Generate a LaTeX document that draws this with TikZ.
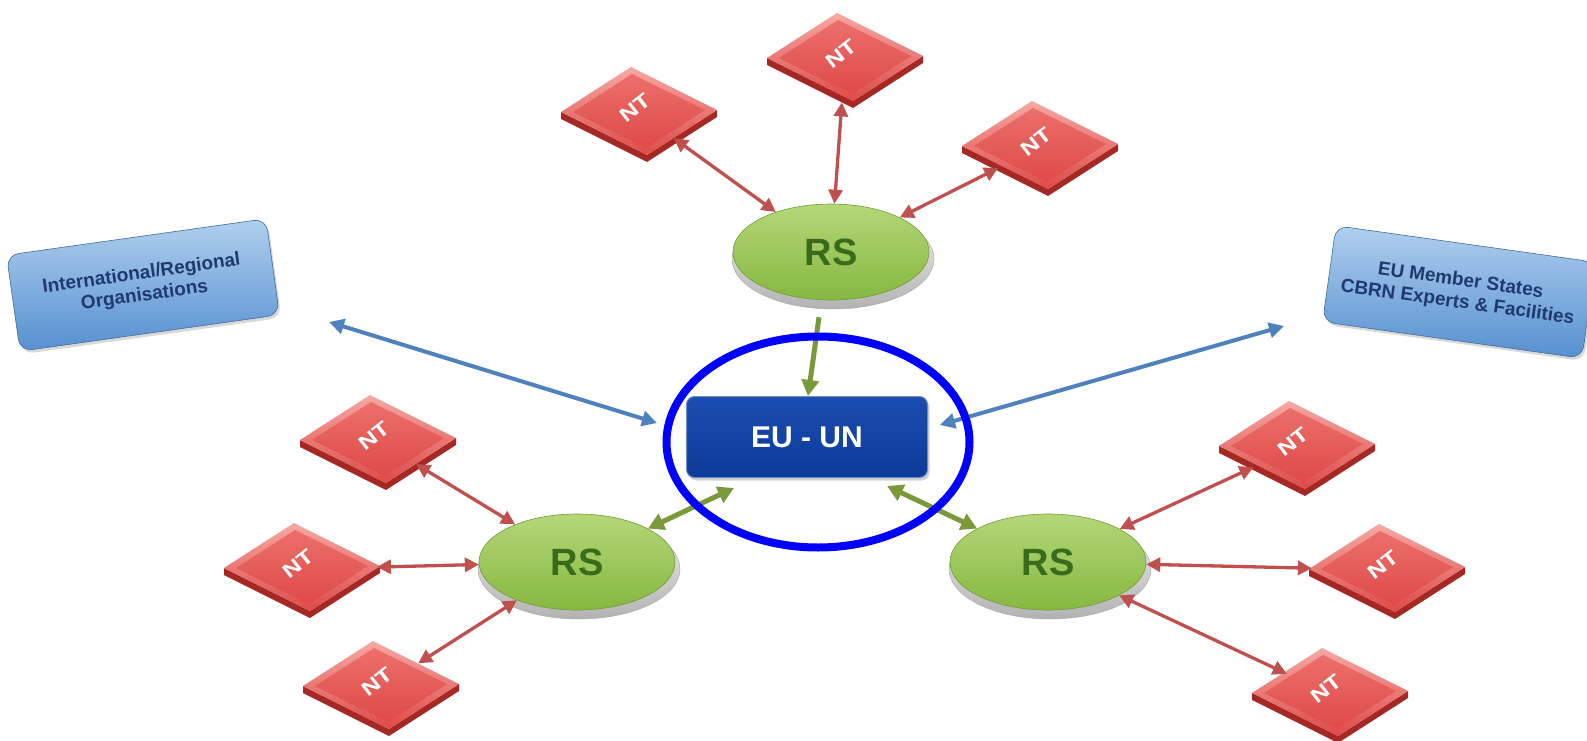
\documentclass[tikz,border=0pt]{standalone}
\usepackage{fontspec}
\setmainfont{Liberation Sans}
\usetikzlibrary{arrows.meta,shapes.geometric,shadows}

\definecolor{ntred}{HTML}{DE4A47}
\definecolor{ntmid}{HTML}{EC6F6B}
\definecolor{ntlight}{HTML}{F7A8A3}
\definecolor{ntdark}{HTML}{A52825}
\definecolor{rsgreen}{HTML}{86B83F}
\definecolor{rslight}{HTML}{B4D779}
\definecolor{rstext}{HTML}{3A6A1C}
\definecolor{redarrow}{HTML}{C0504D}
\definecolor{greenarrow}{HTML}{7A9A3A}
\definecolor{bluearrow}{HTML}{4F81BD}
\definecolor{eublue}{HTML}{0C3A9A}
\definecolor{eutop}{HTML}{1A4DB0}
\definecolor{boxlight}{HTML}{B0CFEE}
\definecolor{boxmid}{HTML}{5590D0}
\definecolor{boxtext}{HTML}{1F3A6E}

\tikzset{
  ntanchor/.style={diamond, minimum width=156pt, minimum height=90pt, inner sep=0pt, draw=none},
  nttext/.style={text=white, font=\bfseries\fontsize{20}{22}\selectfont, inner sep=0pt,
                 cm={0.985,0.770,-0.616,0.788,(0,0)}, transform shape},
  rsnode/.style={ellipse, minimum width=196pt, minimum height=96pt, inner sep=0pt,
                 top color=rslight, bottom color=rsgreen, draw=rsgreen!85!black, line width=0.6pt,
                 text=rstext, font=\bfseries\fontsize{38}{40}\selectfont},
  rsbase/.style={ellipse, minimum width=202pt, minimum height=100pt, inner sep=0pt,
                 top color=gray!10, bottom color=gray!60, draw=gray!70},
  bluebox/.style={rectangle, rounded corners=12pt, minimum width=262pt, minimum height=97pt,
                  top color=boxlight, bottom color=boxmid, draw=boxmid!75!black, line width=0.6pt,
                  text=boxtext, align=center, font=\bfseries\fontsize{19}{22}\selectfont,
                  drop shadow={shadow xshift=2pt, shadow yshift=-3pt, opacity=0.3}},
  eubox/.style={rectangle, rounded corners=8pt, minimum width=241pt, minimum height=81pt,
                top color=eutop, bottom color=eublue, draw=eublue!60!white, line width=1pt,
                text=white, font=\bfseries\fontsize{30}{32}\selectfont,
                drop shadow={shadow xshift=2pt, shadow yshift=-3pt, opacity=0.35}},
  ring/.style={ellipse, draw=blue, line width=8pt, minimum width=303pt, minimum height=211pt, inner sep=0pt},
  rarrow/.style={draw=redarrow, line width=3.3pt,
                 {Triangle[length=14pt,width=14pt]}-{Triangle[length=14pt,width=14pt]}},
  garrow/.style={draw=greenarrow, line width=5pt,
                 {Triangle[length=16pt,width=17pt]}-{Triangle[length=16pt,width=17pt]}},
  gsingle/.style={draw=greenarrow, line width=5pt, -{Triangle[length=16pt,width=17pt]}},
  barrow/.style={draw=bluearrow, line width=4pt,
                 {Triangle[length=15pt,width=15pt]}-{Triangle[length=15pt,width=15pt]}},
}

\newcommand\NTtile[3]{%
  \begin{scope}[shift={(#2,#3)}]
    \fill[ntdark] (-78,-1) -- (8,42) -- (78,-3) -- (78,4) -- (8,49) -- (-78,6) -- cycle;
    \shade[top color=ntlight, bottom color=ntred] (-78,-1) -- (-8,-46) -- (78,-3) -- (8,42) -- cycle;
    \shade[top color=ntmid, bottom color=ntred] (-66,-1) -- (-7,-39) -- (66,-3) -- (7,35) -- cycle;
    \node[ntanchor] (#1) at (0,0) {};
    \node[nttext] (#1t) at (-4,-5) {NT};
  \end{scope}}

\newcommand\RSnode[3]{%
  \node[rsbase] (#1b) at (#2+2,#3+7) {};
  \node[rsnode] (#1) at (#2,#3) {RS};}

\begin{document}
\begin{tikzpicture}[x=1pt,y=-1pt]
\useasboundingbox (0,0) rectangle (1587,741);
\fill[white] (0,0) rectangle (1587,741);

% blue boxes
\node[bluebox, rotate=8] (io) at (143,285) {International/Regional\\Organisations};
\node[bluebox, rotate=-8] (ms) at (1459,292) {EU Member States\\CBRN Experts \& Facilities};

% NT tiles
\NTtile{t1}{639}{113}
\NTtile{t2}{845}{59}
\NTtile{t3}{1040}{147}
\NTtile{l1}{378}{441}
\NTtile{l2}{302}{569}
\NTtile{l3}{381}{687}
\NTtile{r1}{1297}{447}
\NTtile{r2}{1387}{570}
\NTtile{r3}{1330}{694}

% RS nodes
\RSnode{rs1}{831}{252}
\RSnode{rs2}{577}{562}
\RSnode{rs3}{1048}{562}

% EU - UN
\node[eubox] (eu) at (807,437) {EU - UN};

% red arrows
\draw[rarrow] (t1) -- (rs1);
\draw[rarrow] (t2) -- (rs1);
\draw[rarrow] (t3) -- (rs1);
\draw[rarrow] (l1) -- (rs2);
\draw[rarrow] (l2) -- (rs2);
\draw[rarrow] (l3) -- (rs2);
\draw[rarrow] (r1) -- (rs3);
\draw[rarrow] (r2) -- (rs3);
\draw[rarrow] (r3) -- (rs3);

% green arrows
\draw[gsingle] ([shift={(-14,8)}]rs1b.south) -- ([xshift=1pt]eu.north);
\draw[garrow] ([shift={(-73,10)}]eu.south) -- (rs2);
\draw[garrow] ([shift={(80,8)}]eu.south) -- (rs3);

% blue arrows
\draw[barrow] ([shift={(186,37)}]io.center) -- ([shift={(-29,-14)}]eu.west);
\draw[barrow] ([shift={(12,-12)}]eu.east) -- ([shift={(-175,34)}]ms.center);

% highlight ring
\node[ring] (hl) at (818,442) {};
\end{tikzpicture}
\end{document}
